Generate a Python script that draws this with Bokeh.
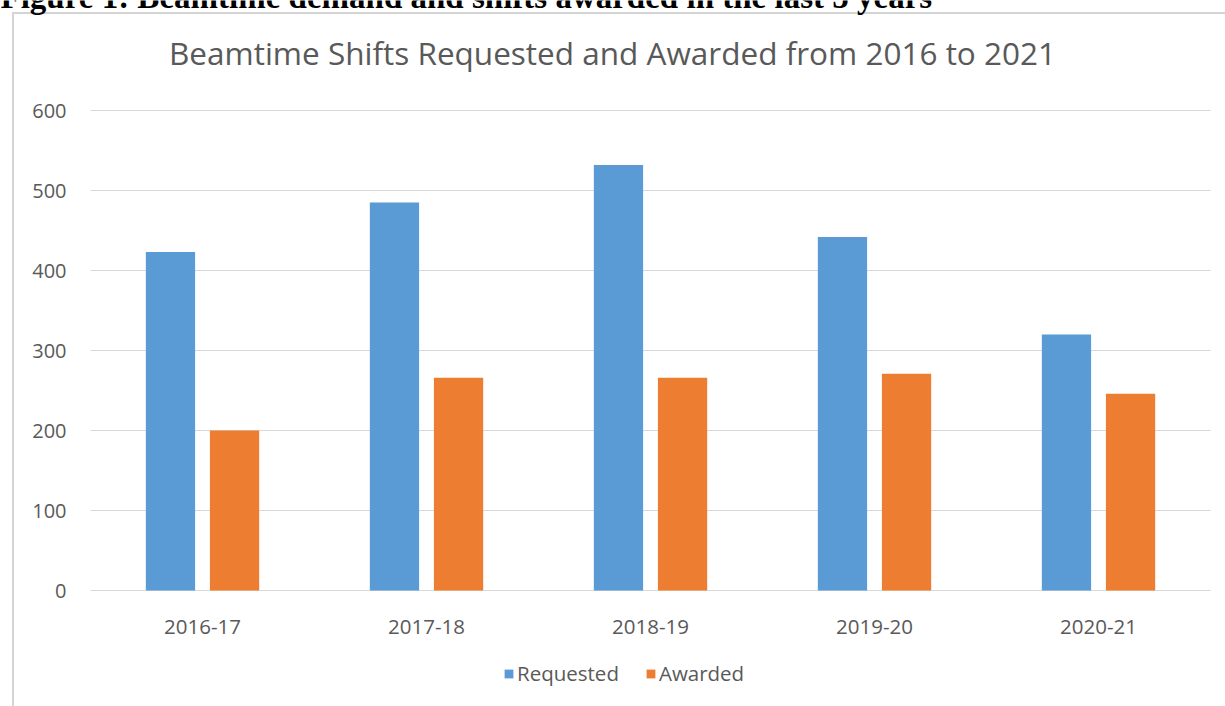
from bokeh.plotting import figure
from bokeh.models import Range1d, Label, Legend, LegendItem, ColumnDataSource
from bokeh.core.properties import value
from bokeh.embed import file_html
from bokeh.resources import INLINE

caption = "Figure 1: Beamtime demand and shifts awarded in the last 5 years"
chart_title = "Beamtime Shifts Requested and Awarded from 2016 to 2021"
years = ["2016-17", "2017-18", "2018-19", "2019-20", "2020-21"]
requested = [423, 485, 532, 442, 320]
awarded = [200, 266, 266, 271, 246]
y_ticks = [0, 100, 200, 300, 400, 500, 600]

BLUE = "#5B9BD5"
ORANGE = "#ED7D31"
GRID = "#D9D9D9"
TXT = "#595959"
FONT = "Open Sans"

# category slots: slot i spans [i, i+1]
centers = [i + 0.5 for i in range(len(years))]
n = len(years)
src = ColumnDataSource(dict(
    years=years, center=centers, requested=requested, awarded=awarded,
    x_req=[c - 0.143 for c in centers], x_awd=[c + 0.143 for c in centers],
))
tick_src = ColumnDataSource(dict(tick=y_ticks, label=[str(t) for t in y_ticks],
                                 x0=[0] * len(y_ticks), x1=[n] * len(y_ticks),
                                 xl=[-0.107] * len(y_ticks)))

W, H = 1225, 706
border_css = {
    "background-color": "white",
    "background-image": "linear-gradient(#D4D4D4, #D4D4D4), linear-gradient(#D4D4D4, #D4D4D4)",
    "background-size": "100% 2px, 2px 100%",
    "background-position": "12px 12px, 12px 12px",
    "background-repeat": "no-repeat",
}
# plot area spans the whole canvas; data ranges chosen so 0..600 sits at y=590..110 px
p = figure(x_range=Range1d(-90 / 224, (W - 90) / 224),
           y_range=Range1d(-(H - 590) / 0.8, 590 / 0.8),
           width=W, height=H, output_backend="svg", toolbar_location=None,
           x_axis_type=None, y_axis_type=None,
           min_border=0, min_border_left=0, min_border_right=0,
           min_border_top=0, min_border_bottom=0, styles=border_css)
p.background_fill_alpha = 0
p.border_fill_alpha = 0
p.outline_line_color = None
p.xgrid.visible = False
p.ygrid.visible = False

# gridlines (incl. baseline) and y tick labels
p.segment(x0="x0", x1="x1", y0="tick", y1="tick", source=tick_src,
          line_color=GRID, line_width=1)
p.text(x="xl", y="tick", text="label", source=tick_src, text_align="right",
       text_baseline="middle", text_font=value(FONT), text_font_size="20px",
       text_color=TXT)

# bars
r1 = p.vbar(x="x_req", top="requested", bottom=0, width=0.22, source=src,
            fill_color=BLUE, line_color=None)
r2 = p.vbar(x="x_awd", top="awarded", bottom=0, width=0.22, source=src,
            fill_color=ORANGE, line_color=None)

# category labels
p.text(x="center", y=-46, text="years", source=src, text_align="center",
       text_baseline="middle", text_font=value(FONT), text_font_size="20.5px",
       text_color=TXT)

# titles
p.add_layout(Label(x=(612 - 90) / 224, y=(590 - 52) / 0.8, text=chart_title,
                   text_align="center", text_baseline="alphabetic", text_font=FONT,
                   text_font_size="31.5px", text_color=TXT))
p.add_layout(Label(x=-90 / 224, y=(590 + 4) / 0.8, text=caption,
                   text_align="left", text_baseline="alphabetic", text_font="Liberation Serif",
                   text_font_style="bold", text_font_size="33px", text_color="black"))

legend = Legend(items=[LegendItem(label="Requested", renderers=[r1]),
                       LegendItem(label="Awarded", renderers=[r2])],
                orientation="horizontal", location=(503, 19),
                label_text_font=FONT, label_text_font_size="20.5px", label_text_color=TXT,
                glyph_width=11, glyph_height=11, label_standoff=3, spacing=26,
                border_line_color=None, background_fill_alpha=0, margin=0, padding=8)
p.add_layout(legend, "center")

open("out.html", "w").write(file_html(p, INLINE))
